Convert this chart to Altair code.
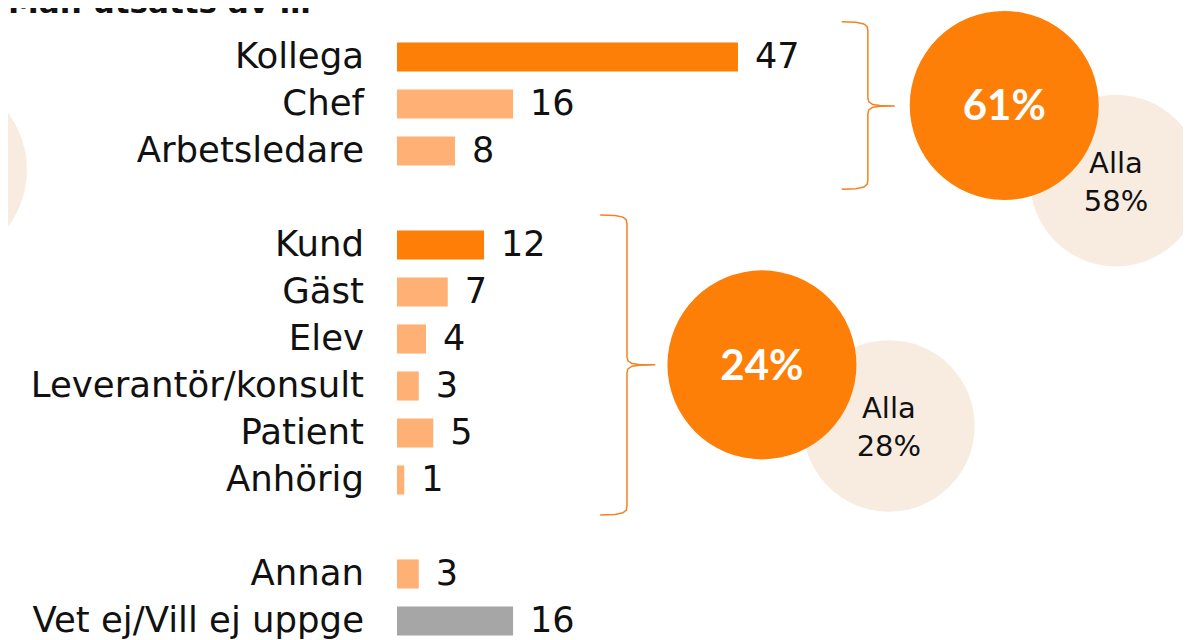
import altair as alt
import pandas as pd

# ---------------- data ----------------
categories = ["Kollega", "Chef", "Arbetsledare", "Kund", "Gäst", "Elev",
              "Leverantör/konsult", "Patient", "Anhörig", "Annan",
              "Vet ej/Vill ej uppge"]
values = [47, 16, 8, 12, 7, 4, 3, 5, 1, 3, 16]
rows = [0, 1, 2, 4, 5, 6, 7, 8, 9, 11, 12]
groups = ["main", "sub", "sub", "main", "sub", "sub", "sub", "sub", "sub", "sub", "other"]

group_share_text = ["61%", "24%"]
group_share_x = [83.7, 50.3]
group_share_row = [1.03, 6.55]

all_share_text = ["Alla\n58%", "Alla\n28%"]
all_share_x = [99.1, 67.8]
all_share_row = [2.63, 7.85]

deco_circle_x = [-64.1]
deco_circle_row = [2.40]

# braces: x_end, x_vert, x_tip (value units), row_top, row_mid, row_bot
brace_x_end = [61.3, 28.0]
brace_x_vert = [64.9, 31.7]
brace_x_tip = [68.6, 35.6]
brace_row_top = [-0.75, 3.36]
brace_row_mid = [1.04, 6.55]
brace_row_bot = [2.815, 9.745]

title_text = "Man utsatts av …"

# ---------------- style ----------------
DARK = "#FE7F08"
LIGHT = "#FFB074"
GREY = "#A6A6A6"
BEIGE = "#F8ECE1"
TXT = "#111111"
FONT = "DejaVu Sans"

PLOT_W = 1175
PLOT_H = 632
X_DOMAIN = [-389 / 7.255, (PLOT_W - 389) / 7.255]
Y_DOMAIN = [-49 / 47, (PLOT_H - 49) / 47]
xs = alt.Scale(domain=X_DOMAIN, nice=False, zero=False)
ys = alt.Scale(domain=Y_DOMAIN, nice=False, zero=False, reverse=True)

bars_df = pd.DataFrame({"category": categories, "value": values,
                        "row": rows, "group": groups})

# brace outline (shape template, pixel offsets converted to scale units)
kx = 1 / 7.255
ky = 1 / 47.0
pts = []
for b in range(len(brace_x_end)):
    xe, xv, xt = brace_x_end[b], brace_x_vert[b], brace_x_tip[b]
    yt, ym, yb = brace_row_top[b], brace_row_mid[b], brace_row_bot[b]
    half = [
        (xe, yt),
        (xv - 12 * kx, yt + 0.6 * ky),
        (xv - 4 * kx, yt + 2.2 * ky),
        (xv - 0.7 * kx, yt + 5 * ky),
        (xv, yt + 9 * ky),
        (xv, ym - 8 * ky),
        (xv + 1 * kx, ym - 4 * ky),
        (xv + 5 * kx, ym - 1.3 * ky),
        (xv + 12 * kx, ym - 0.3 * ky),
    ]
    lower = []
    for x, y in reversed(half):
        d = ym - y
        if d > 0.5:
            lower.append((x, yb - (y - yt)))
        else:
            lower.append((x, ym + d))
    seq = half + [(xt, ym)] + lower
    for i, (x, y) in enumerate(seq):
        pts.append({"brace": b, "i": i, "x": x, "y": y})
brace_df = pd.DataFrame(pts)

orange_df = pd.DataFrame({"x": group_share_x, "row": group_share_row, "t": group_share_text})
beige_df = pd.DataFrame({"x": all_share_x, "row": all_share_row, "t": all_share_text})
deco_df = pd.DataFrame({"x": deco_circle_x, "row": deco_circle_row})
title_df = pd.DataFrame({"t": [title_text], "x": [X_DOMAIN[0]], "row": [-0.94]})


def X(f):
    return alt.X(f, scale=xs, axis=None)


def Y(f):
    return alt.Y(f, scale=ys, axis=None)


deco = alt.Chart(deco_df).mark_circle(size=36100, color=BEIGE, opacity=1).encode(
    x=X("x:Q"), y=Y("row:Q"))
beige = alt.Chart(beige_df).mark_circle(size=29450, color=BEIGE, opacity=1).encode(
    x=X("x:Q"), y=Y("row:Q"))
orange = alt.Chart(orange_df).mark_circle(size=35721, color=DARK, opacity=1).encode(
    x=X("x:Q"), y=Y("row:Q"))

braces = alt.Chart(brace_df).mark_line(color="#F58220", strokeWidth=1.5).encode(
    x=X("x:Q"), y=Y("y:Q"), order="i:Q", detail="brace:N")

bars = alt.Chart(bars_df).transform_calculate(
    y0="datum.row - 0.31", y1="datum.row + 0.31", zero="0"
).mark_rect().encode(
    x=X("value:Q"),
    x2="zero:Q",
    y=Y("y0:Q"),
    y2="y1:Q",
    color=alt.Color("group:N",
                    scale=alt.Scale(domain=["main", "sub", "other"],
                                    range=[DARK, LIGHT, GREY]),
                    legend=None),
)

labels = alt.Chart(bars_df).transform_calculate(zero="0").mark_text(
    align="right", baseline="middle", dx=-33, fontSize=35.5, font=FONT, color=TXT
).encode(x=X("zero:Q"), y=Y("row:Q"), text="category:N")

nums = alt.Chart(bars_df).mark_text(
    align="left", baseline="middle", dx=17, fontSize=35, font=FONT, color=TXT
).encode(x=X("value:Q"), y=Y("row:Q"), text="value:Q")

orange_txt = alt.Chart(orange_df).mark_text(
    align="center", baseline="middle", dy=2, fontSize=42, font="Lato",
    fontWeight="bold", color="white"
).encode(x=X("x:Q"), y=Y("row:Q"), text="t:N")

beige_txt = alt.Chart(beige_df).mark_text(
    align="center", baseline="middle", dy=-17, fontSize=29, font=FONT, color=TXT,
    lineBreak="\n", lineHeight=38
).encode(x=X("x:Q"), y=Y("row:Q"), text="t:N")

title = alt.Chart(title_df).mark_text(
    align="left", baseline="alphabetic", fontSize=31, font=FONT,
    fontWeight="bold", color=TXT
).encode(x=X("x:Q"), y=Y("row:Q"), text="t:N")

chart = alt.layer(
    deco, beige, orange, braces, bars, labels, nums, orange_txt, beige_txt, title
).properties(
    width=PLOT_W, height=PLOT_H, padding=0,
    autosize=alt.AutoSizeParams(type="none"),
).configure_view(stroke=None)

chart.save("out.html", embed_options={"renderer": "svg", "actions": False})
